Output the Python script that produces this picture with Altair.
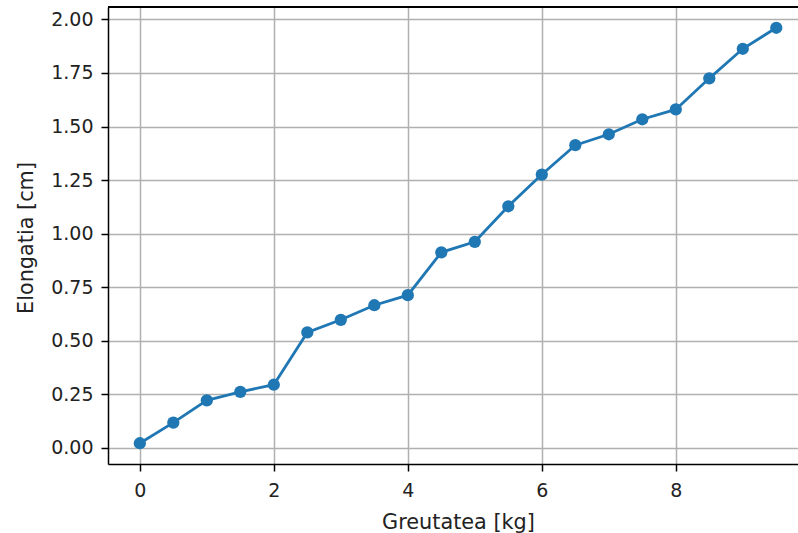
import altair as alt
import pandas as pd

greutate = [0, 0.5, 1, 1.5, 2, 2.5, 3, 3.5, 4, 4.5, 5, 5.5, 6, 6.5, 7, 7.5, 8, 8.5, 9, 9.5]
elongatie = [0.022, 0.118, 0.222, 0.262, 0.295, 0.539, 0.598, 0.666, 0.713, 0.913,
             0.962, 1.128, 1.276, 1.413, 1.464, 1.534, 1.580, 1.725, 1.863, 1.961]
x_ticks = [0, 2, 4, 6, 8]
y_ticks = [0.0, 0.25, 0.5, 0.75, 1.0, 1.25, 1.5, 1.75, 2.0]

df = pd.DataFrame({"g": greutate, "e": elongatie})

W, H = 690, 457
FONT = "DejaVu Sans"
TXT = "#222222"

x_enc = alt.X("g:Q", scale=alt.Scale(domain=[-0.475, 9.824], nice=False, zero=False),
              axis=alt.Axis(values=x_ticks, format="d", title="Greutatea [kg]",
                            grid=True, gridColor="#b0b0b0", gridWidth=1.5,
                            domainColor="black", domainWidth=1.5,
                            tickColor="black", tickWidth=1.5, tickSize=7,
                            labelFont=FONT, labelFontSize=19, labelColor=TXT,
                            labelPadding=10, labelFlush=False,
                            titleFont=FONT, titleFontSize=20.8, titleColor=TXT,
                            titleFontWeight="normal", titleX=350, titleY=64,
                            titleBaseline="alphabetic", titleAlign="center"))
y_enc = alt.Y("e:Q", scale=alt.Scale(domain=[-0.075, 2.058], nice=False, zero=False),
              axis=alt.Axis(values=y_ticks, format=".2f", title="Elongatia [cm]",
                            grid=True, gridColor="#b0b0b0", gridWidth=1.5,
                            domainColor="black", domainWidth=1.5,
                            tickColor="black", tickWidth=1.5, tickSize=7,
                            labelFont=FONT, labelFontSize=19, labelColor=TXT,
                            labelPadding=8, labelFlush=False,
                            titleFont=FONT, titleFontSize=20.8, titleColor=TXT,
                            titleFontWeight="normal", titleAngle=270,
                            titleX=-76, titleY=230.5,
                            titleBaseline="alphabetic", titleAlign="center"))

base = alt.Chart(df)
line = base.mark_line(color="#1f77b4", strokeWidth=2.8).encode(x=x_enc, y=y_enc)
pts = base.mark_circle(color="#1f77b4", size=150, opacity=1).encode(x="g:Q", y="e:Q")
top_spine = alt.Chart(df).mark_rule(color="black", strokeWidth=1.5).encode(
    x=alt.value(0), x2=alt.value(W), y=alt.value(0))

chart = alt.layer(line, pts, top_spine).properties(
    width=W, height=H,
    autosize=alt.AutoSizeParams(type="none"),
    padding={"left": 108, "top": 7, "right": 0, "bottom": 69},
).configure_view(stroke=None).configure(background="white")

chart.save("out.html", embed_options={"renderer": "svg", "actions": False})
